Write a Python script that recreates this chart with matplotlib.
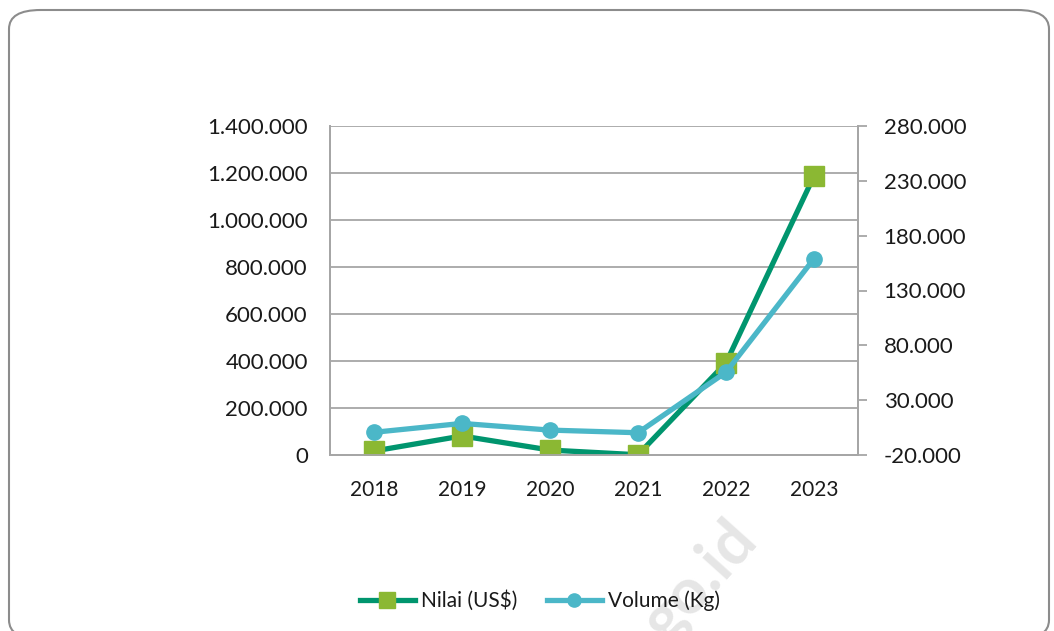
import matplotlib.pyplot as plt
from matplotlib.patches import FancyBboxPatch
from matplotlib.lines import Line2D
from matplotlib.ticker import FuncFormatter

plt.rcParams['font.family'] = ['Lato', 'DejaVu Sans']

years = ['2018', '2019', '2020', '2021', '2022', '2023']
nilai = [17000, 81000, 21000, 1000, 392000, 1187000]   # US$, left axis
volume = [700, 8800, 2700, 300, 55500, 159000]         # Kg, right axis

left_ticks = list(range(0, 1400001, 200000))
right_ticks = list(range(-20000, 280001, 50000))

green_line = '#00956E'
green_marker = '#8BB833'
blue = '#4BB7C8'
grid_col = '#A6A6A6'


def dutch(v, pos=None):
    return f"{int(v):,}".replace(",", ".")


fig = plt.figure(figsize=(10.54, 6.31), dpi=100)

# rounded outer frame (bottom edge runs just past the image)
frame = FancyBboxPatch((9 / 1054, -8 / 631), 1040 / 1054, 629 / 631,
                       boxstyle="round,pad=0,rounding_size=0.03",
                       transform=fig.transFigure, fill=False,
                       edgecolor='#8C8C8C', linewidth=1.5, zorder=0)
fig.patches.append(frame)

ax = fig.add_axes([330 / 1054, 176 / 631, 528 / 1054, 329 / 631])
ax2 = ax.twinx()

x = list(range(len(years)))
ax.plot(x, nilai, color=green_line, linewidth=3.8, marker='s', markersize=14,
        markerfacecolor=green_marker, markeredgecolor=green_marker, zorder=3)
ax2.plot(x, volume, color=blue, linewidth=3.8, marker='o', markersize=11,
         markerfacecolor=blue, markeredgecolor=blue, zorder=4)

ax.set_xlim(-0.5, 5.5)
ax.set_ylim(0, 1400000)
ax.set_yticks(left_ticks)
ax.yaxis.set_major_formatter(FuncFormatter(dutch))
ax.set_xticks(x)
ax.set_xticklabels(years)
ax.grid(axis='y', color=grid_col, linewidth=1.3)
ax.set_axisbelow(True)

ax2.set_ylim(-20000, 280000)
ax2.set_yticks(right_ticks)
ax2.yaxis.set_major_formatter(FuncFormatter(dutch))

for a in (ax, ax2):
    for s in a.spines.values():
        s.set_color(grid_col)
        s.set_linewidth(1.3)
    a.spines['top'].set_visible(False)

ax.tick_params(axis='y', length=0, pad=16, labelsize=16, labelcolor='#1A1A1A')
ax.tick_params(axis='x', length=0, pad=18, labelsize=15, labelcolor='#1A1A1A')
ax2.tick_params(axis='y', length=6.5, width=1.3, color=grid_col, pad=12,
                labelsize=16, labelcolor='#1A1A1A')

# watermark
fig.text(700 / 1054, 50 / 631, 'go.id', fontsize=46, fontweight='bold',
         color='#E6E6E6', rotation=48, ha='center', va='center', zorder=-1)

handles = [
    Line2D([], [], color=green_line, linewidth=3.8, marker='s', markersize=11,
           markerfacecolor=green_marker, markeredgecolor=green_marker),
    Line2D([], [], color=blue, linewidth=3.8, marker='o', markersize=9.5,
           markerfacecolor=blue, markeredgecolor=blue),
]
fig.legend(handles, ['Nilai (US$)', 'Volume (Kg)'], loc='center',
           bbox_to_anchor=(540 / 1054, 30 / 631), ncol=2, frameon=False,
           fontsize=15, handlelength=2.65, handletextpad=0.3, columnspacing=1.4,
           labelcolor='#1A1A1A')

fig.savefig('out.png', dpi=100)
